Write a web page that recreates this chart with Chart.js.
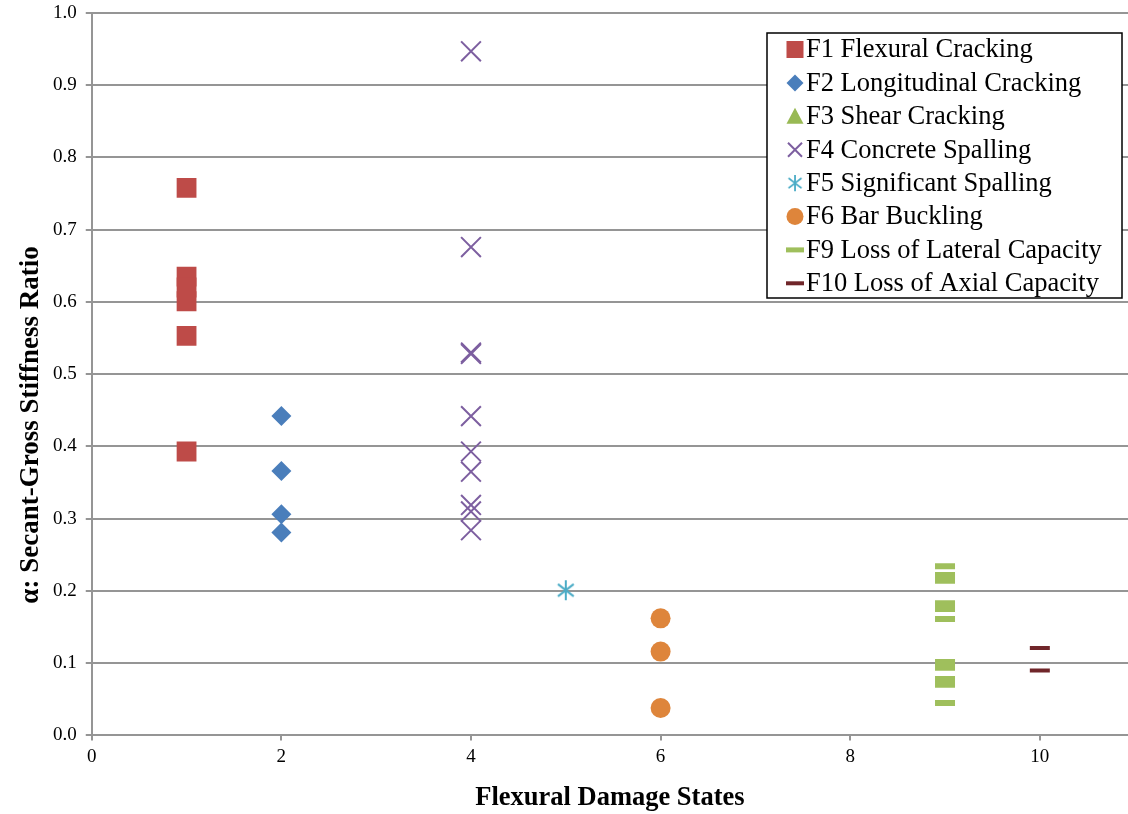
<!DOCTYPE html>
<html>
<head>
<meta charset="utf-8">
<script src="https://cdn.jsdelivr.net/npm/chart.js@4.4.1/dist/chart.umd.min.js"></script>
<style>
  body { margin: 0; background: #fff; }
  #wrap { width: 1128px; height: 814px; position: relative; }
</style>
</head>
<body>
<div id="wrap"><canvas id="chart"></canvas></div>
<script>
// damage state of each series
const seriesNames = ['F1 Flexural Cracking', 'F2 Longitudinal Cracking', 'F3 Shear Cracking',
    'F4 Concrete Spalling', 'F5 Significant Spalling', 'F6 Bar Buckling',
    'F9 Loss of Lateral Capacity', 'F10 Loss of Axial Capacity'];
const seriesStates = [1, 2, 3, 4, 5, 6, 9, 10];

// alpha values
const f1Vals = [0.758, 0.635, 0.620, 0.601, 0.553, 0.393];
const f2Vals = [0.442, 0.366, 0.306, 0.281];
const f3Vals = [];
const f4Vals = [0.947, 0.676, 0.530, 0.528, 0.442, 0.393, 0.365, 0.319, 0.310, 0.284];
const f5Vals = [0.201];
const f6Vals = [0.162, 0.116, 0.038];
const f9Vals = [0.234, 0.222, 0.214, 0.183, 0.175, 0.161, 0.1015, 0.0935, 0.078, 0.070, 0.045];
const f10Vals = [0.121, 0.090];

const xTicks = [0, 2, 4, 6, 8, 10];

const yTitle = 'α: Secant-Gross Stiffness Ratio';
const xTitle = 'Flexural Damage States';

const FONT = "'Liberation Serif', 'Times New Roman', serif";
const GRID = '#959595';

// asterisk marker for F5 (vertical bar + X)
function makeAsterisk(color, size) {
    const c = document.createElement('canvas');
    c.width = size; c.height = size;
    const g = c.getContext('2d');
    const m = size / 2, r = size / 2 - 1;
    g.strokeStyle = color;
    g.lineWidth = 2;
    g.beginPath();
    g.moveTo(m, m - r); g.lineTo(m, m + r);
    const a = 52 * Math.PI / 180;
    g.moveTo(m - r * Math.sin(a), m - r * Math.cos(a)); g.lineTo(m + r * Math.sin(a), m + r * Math.cos(a));
    g.moveTo(m + r * Math.sin(a), m - r * Math.cos(a)); g.lineTo(m - r * Math.sin(a), m + r * Math.cos(a));
    g.stroke();
    return c;
}

const styles = [
    { color: '#BE4B48', pointStyle: 'rect', radius: 14, borderWidth: 0 },
    { color: '#4A7EBB', pointStyle: 'rectRot', radius: 10, borderWidth: 0 },
    { color: '#98B954', pointStyle: 'triangle', radius: 10, borderWidth: 0 },
    { color: '#7D5FA0', pointStyle: 'crossRot', radius: 14, borderWidth: 2 },
    { color: '#4BACC6', pointStyle: makeAsterisk('#4BACC6', 22), radius: 11, borderWidth: 0 },
    { color: '#DE853B', pointStyle: 'circle', radius: 10, borderWidth: 0 },
    { color: '#9FBF5C', pointStyle: 'line', radius: 10, borderWidth: 6 },
    { color: '#70262A', pointStyle: 'line', radius: 10, borderWidth: 4 }
];

const allVals = [f1Vals, f2Vals, f3Vals, f4Vals, f5Vals, f6Vals, f9Vals, f10Vals];

const datasets = allVals.map((vals, i) => ({
    label: seriesNames[i],
    data: vals.map(v => ({ x: seriesStates[i], y: v })),
    pointStyle: styles[i].pointStyle,
    pointRadius: styles[i].radius,
    pointHoverRadius: styles[i].radius,
    pointBorderWidth: styles[i].borderWidth,
    backgroundColor: styles[i].color,
    borderColor: styles[i].color,
    showLine: false
}));

// legend drawn inside the plot, top right
function drawMarker(ctx, i, x, y) {
    const col = styles[i].color;
    ctx.save();
    ctx.fillStyle = col;
    ctx.strokeStyle = col;
    ctx.beginPath();
    switch (i) {
        case 0: ctx.fillRect(x - 8.5, y - 8.5, 17, 17); break;
        case 1: ctx.moveTo(x, y - 8.5); ctx.lineTo(x + 8.5, y); ctx.lineTo(x, y + 8.5); ctx.lineTo(x - 8.5, y); ctx.closePath(); ctx.fill(); break;
        case 2: ctx.moveTo(x, y - 8.5); ctx.lineTo(x + 8.5, y + 7.5); ctx.lineTo(x - 8.5, y + 7.5); ctx.closePath(); ctx.fill(); break;
        case 3: ctx.lineWidth = 2; ctx.moveTo(x - 7, y - 7); ctx.lineTo(x + 7, y + 7); ctx.moveTo(x + 7, y - 7); ctx.lineTo(x - 7, y + 7); ctx.stroke(); break;
        case 4: ctx.drawImage(styles[4].pointStyle, x - 9, y - 9, 18, 18); break;
        case 5: ctx.arc(x, y, 8.5, 0, Math.PI * 2); ctx.fill(); break;
        default: ctx.lineWidth = i === 6 ? 5 : 4; ctx.moveTo(x - 9, y); ctx.lineTo(x + 9, y); ctx.stroke();
    }
    ctx.restore();
}

const legendBox = {
    id: 'legendBox',
    afterDraw(chart) {
        const ctx = chart.ctx;
        const bx = 767, by = 33, bw = 355, bh = 265;
        ctx.save();
        ctx.fillStyle = '#fff';
        ctx.fillRect(bx, by, bw, bh);
        ctx.strokeStyle = '#000';
        ctx.lineWidth = 1.5;
        ctx.strokeRect(bx, by, bw, bh);
        ctx.font = '26.5px ' + FONT;
        ctx.textBaseline = 'middle';
        seriesNames.forEach((name, i) => {
            const y = 49.5 + i * 33.4;
            drawMarker(ctx, i, 795, y);
            ctx.fillStyle = '#000';
            ctx.fillText(name, 806, y + 1);
        });
        ctx.restore();
    }
};

// y title sits lower than the plot centre in the original
const yTitlePlugin = {
    id: 'yTitle',
    afterDraw(chart) {
        const ctx = chart.ctx;
        ctx.save();
        ctx.translate(31, 425);
        ctx.rotate(-Math.PI / 2);
        ctx.font = 'bold 27px ' + FONT;
        ctx.fillStyle = '#000';
        ctx.textAlign = 'center';
        ctx.textBaseline = 'middle';
        ctx.fillText(yTitle, 0, 0);
        ctx.restore();
    }
};

new Chart(document.getElementById('chart'), {
    type: 'scatter',
    data: { datasets: datasets },
    plugins: [legendBox, yTitlePlugin],
    options: {
        responsive: true,
        maintainAspectRatio: false,
        animation: false,
        layout: { autoPadding: false, padding: { left: 44, top: 13, right: 0, bottom: 0 } },
        plugins: {
            legend: { display: false },
            tooltip: { enabled: false }
        },
        scales: {
            x: {
                type: 'linear',
                min: 0,
                max: 10.93,
                afterBuildTicks: axis => { axis.ticks = xTicks.map(v => ({ value: v })); },
                afterFit: axis => { axis.paddingRight = 0; },
                ticks: { font: { family: FONT, size: 19 }, color: '#000', padding: 5, includeBounds: false },
                grid: { drawOnChartArea: false, drawTicks: true, tickLength: 5, color: GRID, lineWidth: 2 },
                border: { display: true, color: GRID, width: 2 },
                title: {
                    display: true,
                    text: xTitle,
                    font: { family: FONT, size: 26.5, weight: 'bold' },
                    color: '#000',
                    padding: { top: 9, bottom: 0 }
                }
            },
            y: {
                min: 0,
                max: 1,
                afterFit: axis => { axis.paddingTop = 0; axis.paddingBottom = 0; },
                ticks: {
                    stepSize: 0.1,
                    font: { family: FONT, size: 19 },
                    color: '#000',
                    padding: 9,
                    callback: v => v.toFixed(1)
                },
                grid: { color: GRID, lineWidth: 2, tickLength: 6 },
                border: { display: true, color: GRID, width: 2 },
                title: { display: false }
            }
        }
    }
});
</script>
</body>
</html>
